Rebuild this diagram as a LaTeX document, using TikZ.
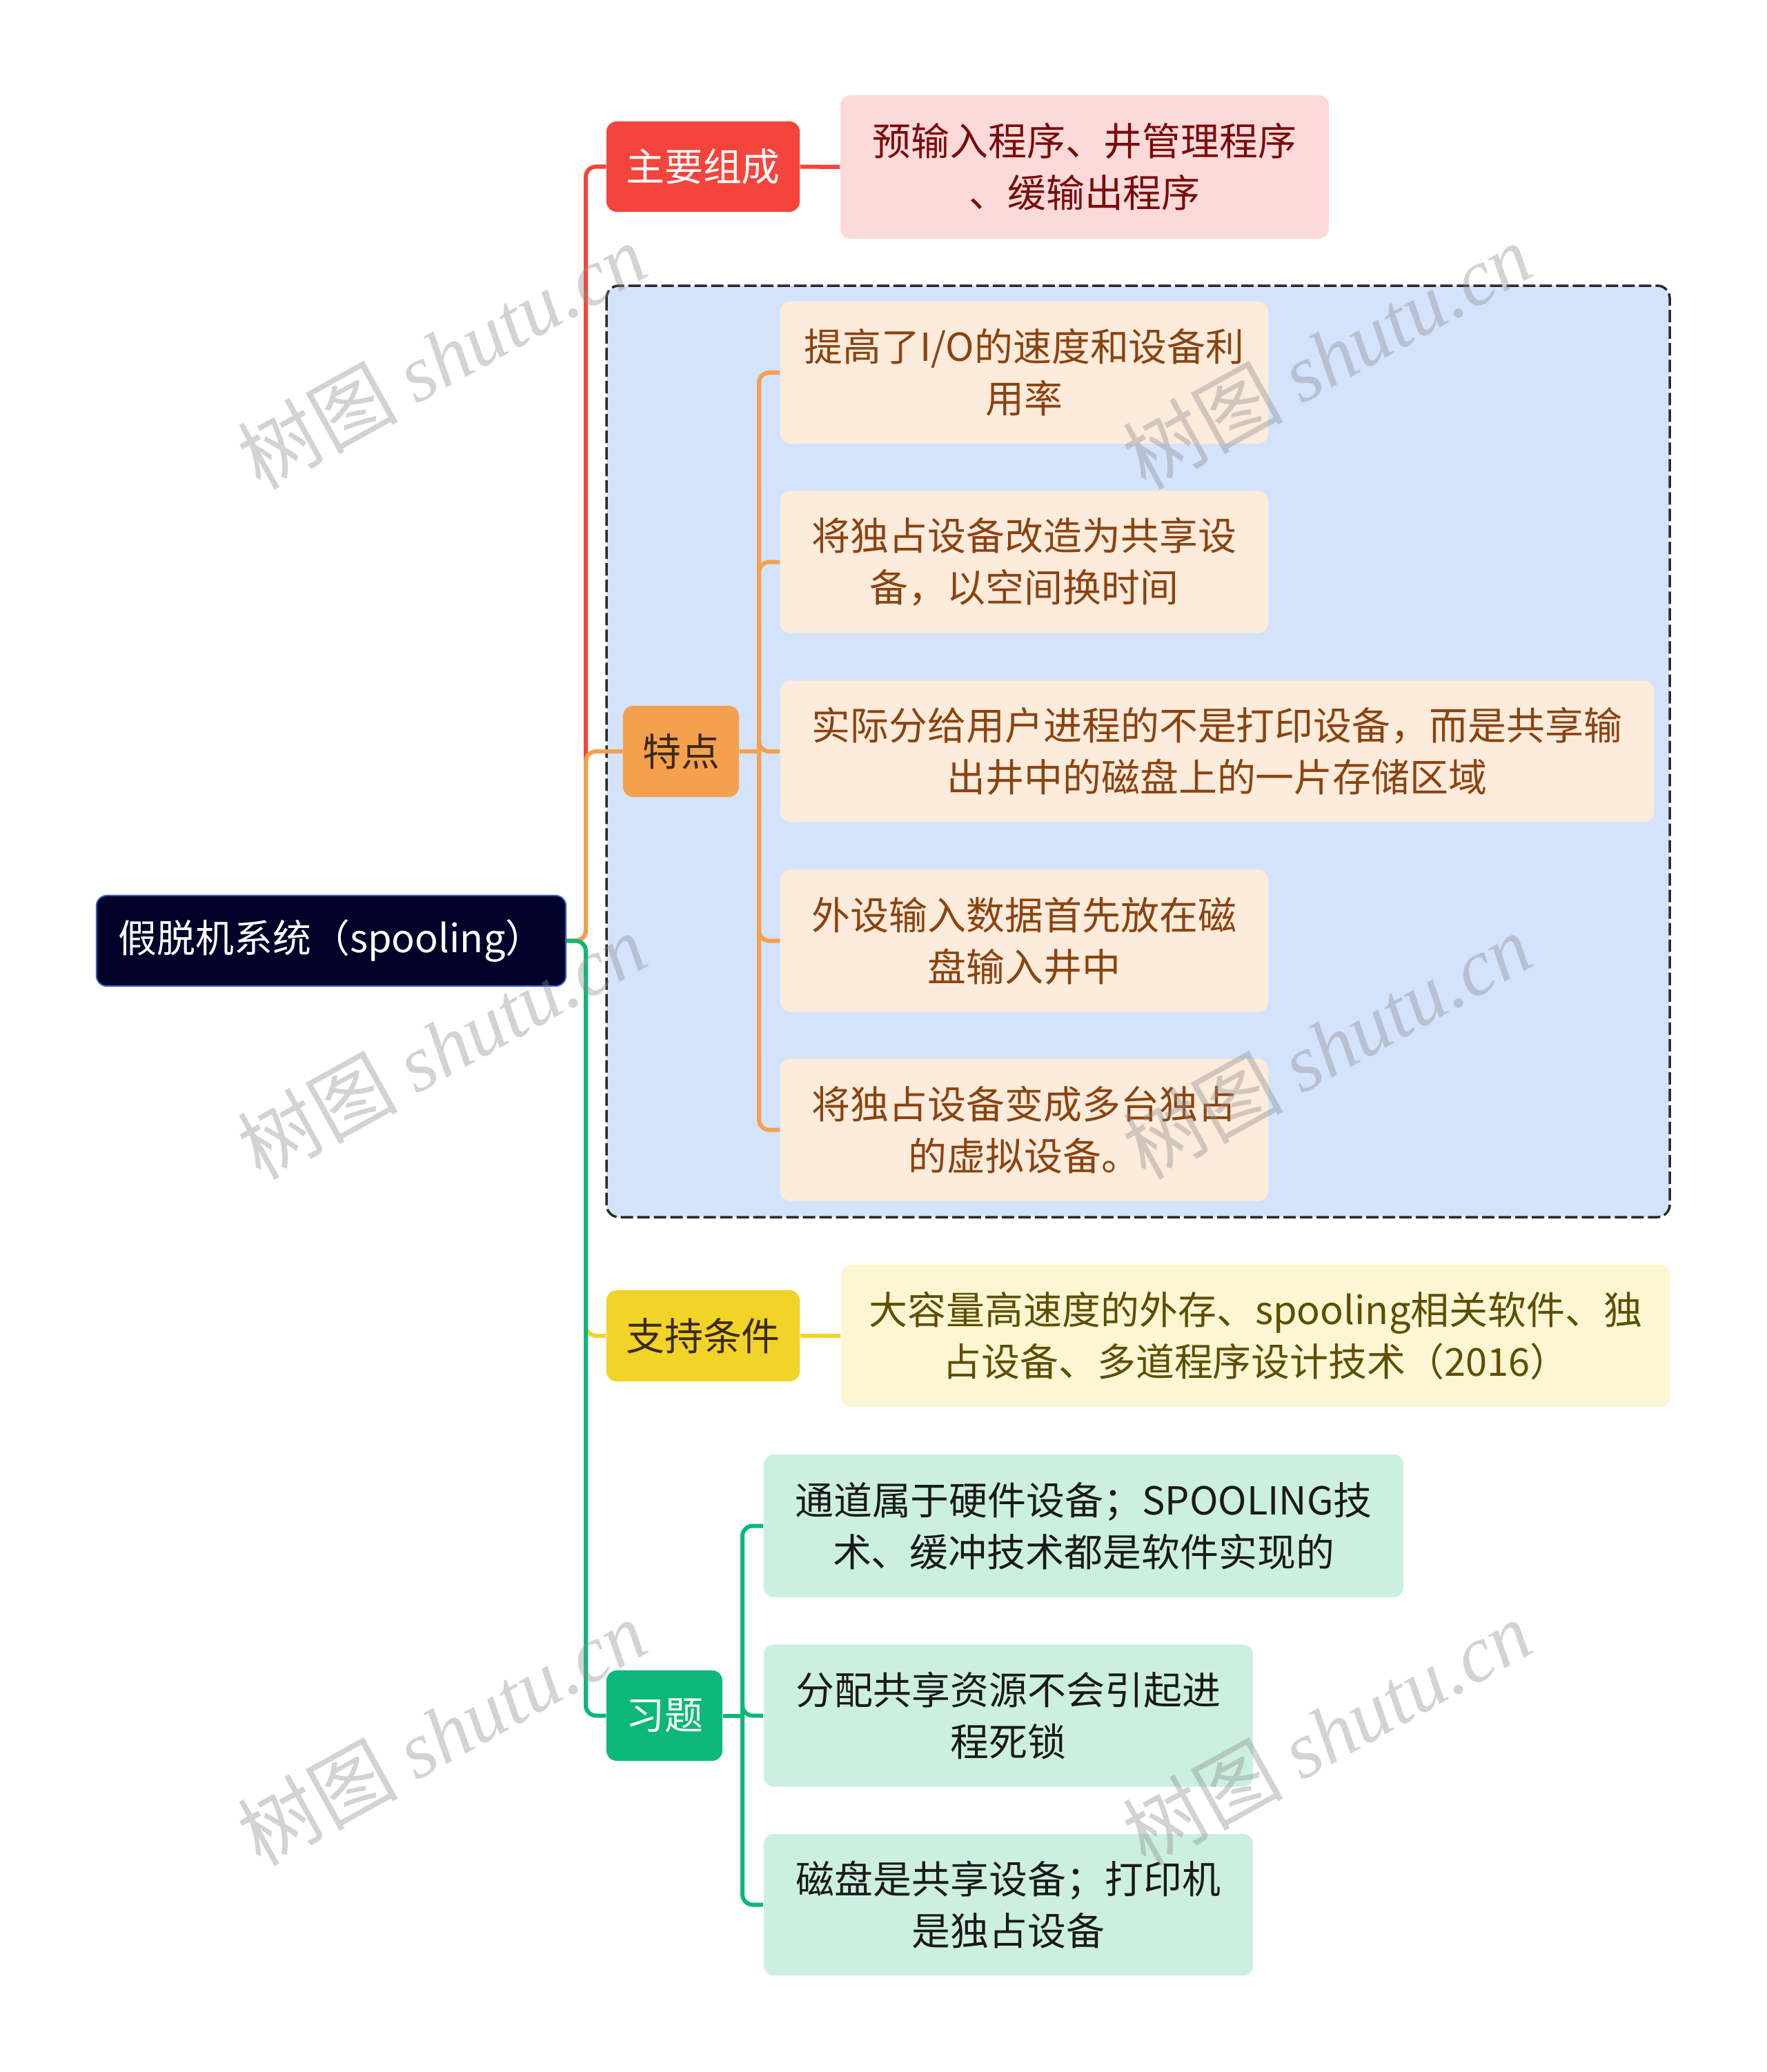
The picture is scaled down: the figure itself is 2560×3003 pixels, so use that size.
\documentclass[tikz,border=0pt]{standalone}
\usepackage{fontspec}
\setmainfont{Noto Sans CJK SC}
\newfontfamily\wmcjk{Noto Sans CJK SC}
\newfontfamily\wmlat{Liberation Serif}

\definecolor{cred}{HTML}{F5443B}
\definecolor{corange}{HTML}{F5A04C}
\definecolor{cyellow}{HTML}{F2D327}
\definecolor{cgreen}{HTML}{0DB77A}
\definecolor{rootfill}{HTML}{01012A}
\definecolor{rootborder}{HTML}{2D5FC8}
\definecolor{lred}{HTML}{FDDADA}
\definecolor{tred}{HTML}{7A0B0B}
\definecolor{lorange}{HTML}{FDEBDB}
\definecolor{torange}{HTML}{8A4310}
\definecolor{boxfill}{HTML}{D4E3FC}
\definecolor{boxline}{HTML}{2B2B2B}
\definecolor{lyellow}{HTML}{FCF6D2}
\definecolor{tyellow}{HTML}{5E4E00}
\definecolor{lgreen}{HTML}{CCF0E0}
\definecolor{tgreen}{HTML}{1A1A1A}
\definecolor{tdark}{HTML}{3A2A1A}

\begin{document}
\begin{tikzpicture}[x=0.01cm,y=-0.01cm,
  base/.style={rectangle, rounded corners=0.15cm, inner sep=0pt, align=center,
    font=\fontsize{15.9pt}{21.3pt}\selectfont},
  conn/.style={line width=0.06cm, rounded corners=0.15cm},
  wm/.style={rotate=29, text=black!45, opacity=0.38, inner sep=0pt,
    font=\fontsize{33pt}{38pt}\selectfont}]
\useasboundingbox (0,0) rectangle (2560,3003);
\fill[white] (0,0) rectangle (2560,3003);

% dashed group box
\draw[fill=boxfill, draw=boxline, line width=0.035cm, dash pattern=on 0.18cm off 0.06cm, rounded corners=0.18cm]
  (879,414) rectangle (2420,1764);

% nodes
\node[base, fill=rootfill, draw=rootborder, line width=0.02cm, text=white,
  minimum width=6.8cm, minimum height=1.31cm] (root) at (480,1363.5) {假脱机系统（spooling）};

\node[base, fill=cred, text=white, minimum width=2.8cm, minimum height=1.31cm] (zy) at (1019,241.5) {主要组成};
\node[base, fill=lred, text=tred, minimum width=7.08cm, minimum height=2.08cm] (zyl) at (1572,242) {预输入程序、井管理程序\\、缓输出程序};

\node[base, fill=corange, text=tdark, minimum width=1.68cm, minimum height=1.32cm] (td) at (987,1089) {特点};
\node[base, fill=lorange, text=torange, minimum width=7.07cm, minimum height=2.06cm] (t1) at (1484.5,540) {提高了I/O的速度和设备利\\用率};
\node[base, fill=lorange, text=torange, minimum width=7.07cm, minimum height=2.06cm] (t2) at (1484.5,814.5) {将独占设备改造为共享设\\备，以空间换时间};
\node[base, fill=lorange, text=torange, minimum width=12.66cm, minimum height=2.05cm] (t3) at (1764,1089) {实际分给用户进程的不是打印设备，而是共享输\\出井中的磁盘上的一片存储区域};
\node[base, fill=lorange, text=torange, minimum width=7.07cm, minimum height=2.06cm] (t4) at (1484.5,1363.5) {外设输入数据首先放在磁\\盘输入井中};
\node[base, fill=lorange, text=torange, minimum width=7.07cm, minimum height=2.06cm] (t5) at (1484.5,1637.5) {将独占设备变成多台独占\\的虚拟设备。};

\node[base, fill=cyellow, text=tdark, minimum width=2.8cm, minimum height=1.32cm] (zc) at (1019,1936) {支持条件};
\node[base, fill=lyellow, text=tyellow, minimum width=12.02cm, minimum height=2.06cm] (zcl) at (1820,1936) {大容量高速度的外存、spooling相关软件、独\\占设备、多道程序设计技术（2016）};

\node[base, fill=cgreen, text=white, minimum width=1.68cm, minimum height=1.31cm] (xt) at (963,2486.5) {习题};
\node[base, fill=lgreen, text=tgreen, minimum width=9.27cm, minimum height=2.07cm] (x1) at (1570.5,2211.5) {通道属于硬件设备；SPOOLING技\\术、缓冲技术都是软件实现的};
\node[base, fill=lgreen, text=tgreen, minimum width=7.09cm, minimum height=2.06cm] (x2) at (1461.5,2486.5) {分配共享资源不会引起进\\程死锁};
\node[base, fill=lgreen, text=tgreen, minimum width=7.09cm, minimum height=2.05cm] (x3) at (1461.5,2760.5) {磁盘是共享设备；打印机\\是独占设备};

% connectors
\coordinate (j) at (849,1363.5);
\coordinate (tj) at (1100,1089);
\coordinate (xj) at (1076,2486.5);
\draw[conn, cred] (root.east) -- (j) |- (zy.west);
\draw[conn, corange] (root.east) -- (j) |- (td.west);
\draw[conn, cyellow] (root.east) -- (j) |- (zc.west);
\draw[conn, cgreen] (root.east) -- (j) |- (xt.west);
\draw[conn, cred] (zy.east) -- (zyl.west);
\draw[conn, cyellow] (zc.east) -- (zcl.west);
\draw[conn, corange] (td.east) -- (tj);
\foreach \n in {t1,t2,t3,t4,t5} \draw[conn, corange] (tj) |- (\n.west);
\draw[conn, cgreen] (xt.east) -- (xj);
\foreach \n in {x1,x2,x3} \draw[conn, cgreen] (xj) |- (\n.west);

% watermarks
\foreach \i/\px/\py in {1/640/516, 2/1923/516, 3/640/1516, 4/1923/1516, 5/640/2511, 6/1923/2511}
  \node[wm] (wm\i) at (\px,\py) {{\wmcjk 树图} {\wmlat\itshape shutu.cn}};
\end{tikzpicture}
\end{document}
